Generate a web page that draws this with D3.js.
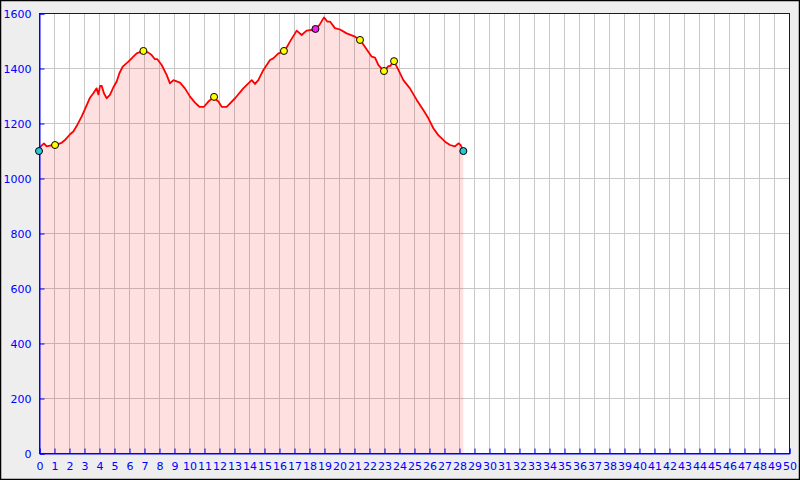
<!DOCTYPE html>
<html><head><meta charset="utf-8">
<script src="https://cdn.jsdelivr.net/npm/d3@7"></script>
<style>
html,body{margin:0;padding:0;background:#eeeeee;}
svg{display:block;}
</style></head>
<body>
<svg id="chart" width="800" height="480"></svg>
<script>
// Distance (x) and elevation (y) of the profile
const distance = [0,0.12,0.33,0.51,0.73,1.07,1.3,1.51,1.73,2.07,2.29,2.55,2.84,3.13,3.4,3.62,3.84,3.96,4.07,4.18,4.33,4.51,4.73,4.96,5.18,5.36,5.58,5.96,6.29,6.51,6.96,7.29,7.51,7.73,7.89,8.18,8.51,8.73,8.96,9.4,9.73,10.07,10.4,10.69,11.0,11.29,11.62,11.96,12.18,12.51,13.07,13.62,14.18,14.4,14.62,14.96,15.4,15.62,15.96,16.36,16.73,17.18,17.51,17.84,18.4,18.69,19.0,19.22,19.4,19.73,20.07,20.51,21.07,21.44,21.84,22.18,22.4,22.62,23.0,23.29,23.4,23.67,23.96,24.29,24.73,25.18,25.62,25.96,26.29,26.62,27.07,27.4,27.73,27.96,28.11,28.29];
const elevation = [1100,1115,1126,1115,1118,1120,1124,1128,1138,1159,1169,1193,1223,1259,1292,1308,1326,1304,1335,1335,1308,1290,1302,1330,1351,1381,1405,1423,1441,1453,1462,1456,1447,1432,1432,1411,1375,1344,1356,1347,1326,1296,1274,1259,1259,1278,1293,1278,1259,1259,1290,1326,1356,1342,1356,1393,1429,1435,1453,1460,1496,1536,1520,1536,1540,1556,1584,1569,1569,1545,1540,1526,1514,1500,1468,1441,1438,1411,1388,1407,1407,1424,1393,1356,1326,1284,1247,1217,1181,1156,1132,1120,1115,1126,1120,1098];
// Waypoint markers
const markerX = [0,1.07,6.96,11.67,16.33,18.43,21.4,23.0,23.67,28.29];
const markerY = [1098,1120,1462,1295,1462,1542,1502,1389,1425,1098];
const markerType = ["end","wpt","wpt","wpt","wpt","top","wpt","wpt","wpt","end"];
const markerColors = {end:"#22ccdd", wpt:"#ffff00", top:"#ee22ee"};
// Axis ticks
const xTicks = d3.range(0,51,1);
const yTicks = [0,200,400,600,800,1000,1200,1400,1600];

const svg = d3.select("#chart");
const W=800,H=480;
const L=39,R=789,T=13,B=453;
const x = d3.scaleLinear().domain([0,50]).range([L,R]);
const y = d3.scaleLinear().domain([0,1600]).range([B,T]);
const blue="#0000ff";

svg.append("rect").attr("x",0.5).attr("y",0.5).attr("width",W-1).attr("height",H-1)
  .attr("fill","#eeeeee").attr("stroke","#000").attr("stroke-width",1.5);
svg.append("rect").attr("x",L).attr("y",T).attr("width",R-L).attr("height",B-T).attr("fill","#fff");

// grid
const grid = svg.append("g").attr("stroke","#c8c8c8").attr("stroke-width",1);
xTicks.forEach(t=>{ if(t>0&&t<50) grid.append("line").attr("x1",Math.round(x(t))+0.5).attr("x2",Math.round(x(t))+0.5).attr("y1",T).attr("y2",B);});
yTicks.forEach(t=>{ if(t>0&&t<1600) grid.append("line").attr("x1",L).attr("x2",R).attr("y1",Math.round(y(t))+0.5).attr("y2",Math.round(y(t))+0.5);});

const pts = distance.map((d,i)=>[d,elevation[i]]);
const area = d3.area().x(d=>x(d[0])).y0(y(0)).y1(d=>y(d[1]));
svg.append("path").datum(pts).attr("d",area).attr("fill","rgba(255,0,0,0.12)");
const line = d3.line().x(d=>x(d[0])).y(d=>y(d[1]));
svg.append("path").datum(pts).attr("d",line).attr("fill","none").attr("stroke","#ff0000").attr("stroke-width",1.8).attr("stroke-linejoin","round");

// frame
svg.append("rect").attr("x",L+0.5).attr("y",T+0.5).attr("width",R-L).attr("height",B-T)
  .attr("fill","none").attr("stroke",blue).attr("stroke-width",1);

// axes
const xAxis = d3.axisBottom(x).tickValues(xTicks).tickSize(-5).tickPadding(9).tickFormat(d3.format("d"));
const gx = svg.append("g").attr("transform",`translate(0.5,${B+0.5})`).call(xAxis);
const yAxis = d3.axisLeft(y).tickValues(yTicks).tickSize(-5).tickPadding(8).tickFormat(d3.format("d"));
const gy = svg.append("g").attr("transform",`translate(${L+0.5},0.5)`).call(yAxis);
[gx,gy].forEach(g=>{
  g.select(".domain").attr("stroke",blue);
  g.selectAll(".tick line").attr("stroke",blue);
  g.selectAll(".tick text").attr("fill",blue).attr("font-family","DejaVu Sans").attr("font-size",11);
});

// markers
svg.append("g").selectAll("circle").data(markerX).join("circle")
  .attr("cx",(d)=>x(d)).attr("cy",(d,i)=>y(markerY[i])).attr("r",3.5)
  .attr("fill",(d,i)=>markerColors[markerType[i]]).attr("stroke","#000").attr("stroke-width",1);
</script>
</body></html>
